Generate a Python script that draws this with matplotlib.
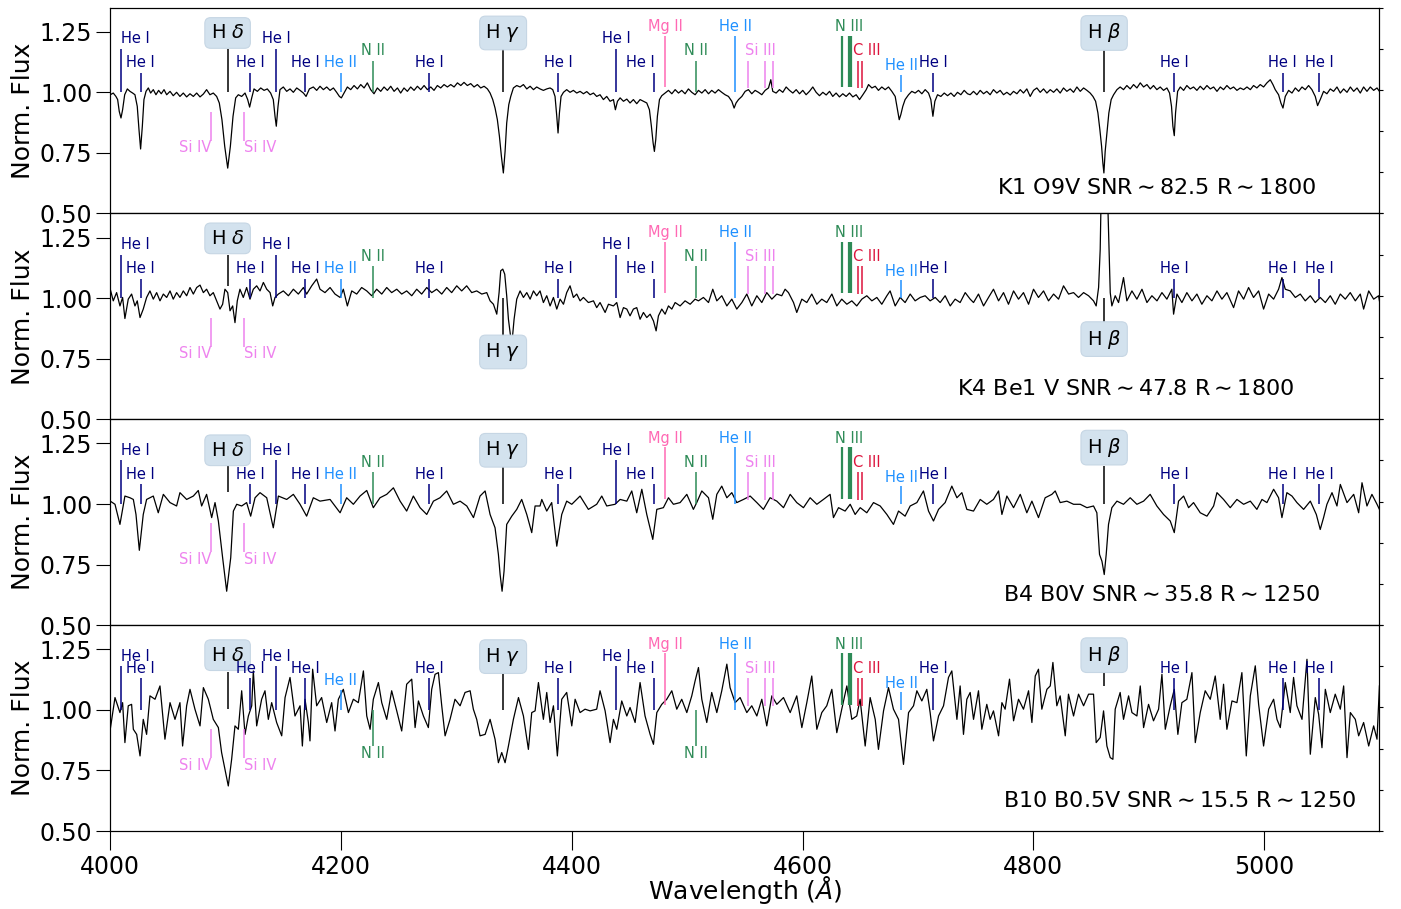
import numpy as np
import matplotlib
matplotlib.use("Agg")
import matplotlib.pyplot as plt
from matplotlib.ticker import FormatStrFormatter

# spectra: (wavelength [A], normalised flux)
k1_spec = [
    (4000.0, 0.990), (4002.6, 0.997), (4004.9, 0.983), (4006.4, 0.970), (4007.8, 0.921), (4009.3, 0.894),
    (4010.7, 0.928), (4012.5, 0.990), (4014.8, 1.014), (4017.1, 1.004), (4019.4, 0.997), (4021.4, 0.990),
    (4023.4, 0.942), (4024.9, 0.846), (4026.3, 0.766), (4027.8, 0.860), (4029.2, 0.970), (4031.0, 1.004),
    (4033.0, 1.018), (4035.0, 0.997), (4037.3, 1.011), (4039.6, 0.990), (4041.9, 1.008), (4044.2, 0.994),
    (4046.6, 1.011), (4048.9, 0.990), (4051.8, 1.004), (4054.6, 0.986), (4057.5, 1.000), (4060.4, 0.983),
    (4063.3, 0.997), (4066.2, 0.981), (4069.1, 0.994), (4072.0, 0.983), (4074.9, 0.997), (4077.8, 0.981),
    (4080.7, 0.993), (4083.5, 1.011), (4086.4, 0.990), (4089.3, 0.997), (4092.2, 0.983), (4094.5, 0.956),
    (4096.8, 0.887), (4099.2, 0.777), (4101.8, 0.687), (4104.1, 0.777), (4106.4, 0.901), (4108.7, 0.977),
    (4111.0, 0.990), (4113.9, 0.983), (4116.8, 0.997), (4119.1, 0.970), (4120.8, 0.939), (4122.6, 0.977),
    (4124.6, 1.014), (4127.5, 1.004), (4130.4, 1.018), (4133.3, 1.008), (4136.1, 1.014), (4139.0, 0.997),
    (4141.3, 0.970), (4142.8, 0.901), (4143.9, 0.860), (4145.4, 0.942), (4147.1, 1.011), (4150.0, 1.022),
    (4152.9, 1.004), (4155.8, 1.014), (4158.7, 1.000), (4161.6, 1.018), (4164.5, 1.008), (4167.4, 0.997),
    (4169.7, 0.983), (4172.6, 1.014), (4176.0, 1.022), (4178.9, 1.008), (4181.8, 1.025), (4184.7, 1.011),
    (4187.6, 1.022), (4190.5, 1.008), (4193.4, 1.018), (4196.2, 1.000), (4198.6, 0.983), (4200.3, 0.977),
    (4202.6, 0.997), (4205.5, 1.022), (4208.4, 1.011), (4211.3, 1.028), (4214.2, 1.014), (4217.1, 1.032),
    (4220.0, 1.018), (4222.8, 1.039), (4225.7, 1.011), (4228.6, 0.994), (4231.5, 1.018), (4234.4, 1.004),
    (4237.3, 1.022), (4240.2, 1.008), (4243.1, 1.025), (4246.0, 1.004), (4248.9, 1.018), (4251.7, 0.997),
    (4254.6, 1.018), (4257.5, 1.004), (4260.4, 1.022), (4263.3, 1.008), (4266.2, 1.025), (4269.1, 1.011),
    (4272.0, 1.028), (4274.9, 1.011), (4277.8, 1.022), (4280.6, 1.008), (4283.5, 1.028), (4286.4, 1.018),
    (4289.3, 1.032), (4292.2, 1.022), (4295.1, 1.032), (4298.0, 1.022), (4300.9, 1.039), (4303.8, 1.028),
    (4306.6, 1.041), (4309.5, 1.028), (4312.4, 1.036), (4315.3, 1.022), (4318.2, 1.032), (4321.1, 1.018),
    (4324.0, 1.025), (4326.9, 1.014), (4329.2, 0.997), (4331.5, 0.970), (4333.5, 0.935), (4335.5, 0.887),
    (4337.3, 0.818), (4339.0, 0.736), (4340.7, 0.667), (4342.2, 0.756), (4343.6, 0.873), (4345.4, 0.949),
    (4347.1, 0.983), (4349.4, 1.018), (4352.3, 1.028), (4355.2, 1.022), (4358.1, 1.032), (4361.0, 1.014),
    (4363.9, 1.025), (4366.8, 1.011), (4369.6, 1.022), (4372.5, 1.014), (4375.4, 1.008), (4378.3, 1.014),
    (4381.2, 1.018), (4383.5, 1.011), (4385.5, 0.983), (4387.0, 0.901), (4388.1, 0.832), (4389.3, 0.915),
    (4390.7, 0.983), (4392.8, 1.000), (4395.6, 1.011), (4398.5, 1.000), (4401.4, 1.008), (4404.3, 0.997),
    (4407.2, 1.004), (4410.1, 0.994), (4413.0, 1.003), (4415.9, 0.990), (4418.8, 0.997), (4421.6, 0.983),
    (4424.5, 0.990), (4427.4, 0.970), (4430.3, 0.983), (4433.2, 0.963), (4436.1, 0.970), (4437.8, 0.928),
    (4439.6, 0.963), (4441.9, 0.977), (4444.8, 0.963), (4447.7, 0.972), (4450.5, 0.956), (4453.4, 0.970),
    (4456.3, 0.953), (4459.2, 0.970), (4462.1, 0.963), (4465.0, 0.956), (4467.3, 0.928), (4469.0, 0.860),
    (4470.5, 0.791), (4471.6, 0.756), (4472.8, 0.805), (4474.2, 0.901), (4476.0, 0.970), (4478.0, 0.986),
    (4480.9, 0.997), (4483.8, 1.008), (4486.7, 0.994), (4489.6, 1.011), (4492.5, 0.997), (4495.3, 1.008),
    (4498.2, 0.994), (4501.1, 1.014), (4504.0, 1.000), (4506.9, 0.990), (4509.8, 1.008), (4512.7, 0.997),
    (4515.6, 1.011), (4518.5, 0.994), (4521.3, 1.008), (4524.2, 0.997), (4527.1, 1.011), (4530.0, 1.000),
    (4532.9, 0.990), (4535.8, 0.983), (4538.7, 0.963), (4540.7, 0.935), (4542.4, 0.956), (4544.5, 0.970),
    (4547.4, 0.983), (4550.3, 1.004), (4553.1, 1.011), (4556.0, 0.994), (4558.9, 1.008), (4561.8, 1.000),
    (4564.7, 0.990), (4567.6, 1.008), (4570.5, 1.018), (4572.5, 1.052), (4574.2, 1.004), (4577.1, 0.997),
    (4580.0, 1.011), (4582.9, 1.000), (4585.8, 1.022), (4588.7, 1.008), (4591.6, 0.997), (4594.5, 1.011),
    (4597.4, 0.994), (4600.2, 1.008), (4603.1, 0.990), (4606.0, 1.004), (4608.9, 1.022), (4611.8, 1.000),
    (4614.7, 0.986), (4617.6, 1.000), (4620.5, 0.989), (4623.4, 1.004), (4626.2, 0.983), (4629.1, 0.997),
    (4632.0, 0.981), (4634.9, 0.994), (4637.8, 0.983), (4640.7, 0.997), (4643.6, 0.981), (4646.5, 0.990),
    (4649.4, 0.970), (4652.3, 0.990), (4655.2, 1.011), (4657.2, 1.032), (4660.1, 1.018), (4663.0, 1.025),
    (4665.8, 1.008), (4668.7, 1.022), (4671.6, 1.011), (4674.5, 1.022), (4677.4, 1.004), (4680.3, 0.983),
    (4682.3, 0.928), (4683.8, 0.887), (4685.2, 0.908), (4686.9, 0.942), (4688.9, 0.970), (4691.9, 0.990),
    (4694.7, 1.004), (4697.6, 0.997), (4700.5, 1.008), (4703.4, 0.994), (4706.3, 1.011), (4709.2, 0.997),
    (4711.2, 0.970), (4713.0, 0.901), (4714.7, 0.963), (4717.0, 0.990), (4719.9, 0.983), (4722.8, 0.997),
    (4725.7, 0.986), (4728.6, 0.997), (4731.4, 0.983), (4734.3, 1.000), (4737.2, 0.990), (4740.1, 1.008),
    (4743.0, 0.994), (4745.3, 0.990), (4748.2, 1.004), (4751.1, 0.990), (4754.0, 1.008), (4756.9, 0.994),
    (4759.7, 1.004), (4762.6, 0.990), (4765.5, 1.011), (4768.4, 0.997), (4771.3, 1.008), (4774.2, 0.990),
    (4777.1, 1.000), (4780.0, 0.989), (4782.9, 1.004), (4785.8, 0.994), (4788.7, 1.011), (4791.5, 0.997),
    (4794.4, 1.014), (4797.3, 0.983), (4800.2, 1.008), (4803.1, 1.018), (4806.0, 1.000), (4808.9, 1.014),
    (4811.8, 0.997), (4814.7, 1.011), (4817.6, 1.000), (4820.4, 1.014), (4823.3, 0.997), (4826.2, 1.018),
    (4829.1, 1.004), (4832.0, 1.014), (4834.9, 1.000), (4837.8, 1.022), (4840.7, 1.004), (4843.6, 1.018),
    (4846.5, 1.008), (4849.3, 0.997), (4851.7, 0.983), (4854.0, 0.963), (4856.0, 0.915), (4857.7, 0.846),
    (4859.2, 0.777), (4860.3, 0.708), (4861.2, 0.667), (4862.3, 0.756), (4863.8, 0.832), (4865.5, 0.915),
    (4867.5, 0.970), (4869.6, 0.990), (4872.5, 1.011), (4875.3, 1.022), (4878.2, 1.011), (4881.1, 1.028),
    (4884.0, 1.014), (4886.9, 1.032), (4889.8, 1.018), (4892.7, 1.039), (4895.6, 1.022), (4898.5, 1.032),
    (4901.4, 1.014), (4904.2, 1.028), (4907.1, 1.011), (4910.0, 1.022), (4912.9, 1.008), (4915.8, 1.018),
    (4918.1, 0.997), (4919.8, 0.942), (4921.0, 0.860), (4922.2, 0.821), (4923.3, 0.915), (4925.1, 1.004),
    (4927.4, 1.022), (4930.3, 1.008), (4933.1, 1.028), (4936.0, 1.014), (4938.9, 1.022), (4941.8, 1.008),
    (4944.7, 1.025), (4947.6, 1.011), (4950.5, 1.028), (4953.4, 1.014), (4956.3, 1.022), (4959.2, 1.004),
    (4962.1, 1.022), (4964.9, 1.011), (4967.8, 1.028), (4970.7, 1.014), (4973.6, 1.022), (4976.5, 1.008),
    (4979.4, 1.018), (4982.3, 1.011), (4985.2, 1.022), (4988.1, 1.011), (4990.9, 1.028), (4993.8, 1.018),
    (4996.7, 1.032), (4999.6, 1.022), (5002.5, 1.039), (5005.4, 1.052), (5007.7, 1.032), (5009.7, 1.011),
    (5012.6, 0.990), (5014.6, 0.956), (5016.4, 0.935), (5018.4, 0.983), (5021.3, 1.008), (5024.2, 0.997),
    (5027.1, 1.018), (5030.0, 1.004), (5032.9, 1.022), (5035.7, 1.011), (5038.6, 1.028), (5041.5, 1.011),
    (5044.4, 0.983), (5046.4, 0.945), (5048.7, 0.970), (5051.6, 1.004), (5054.5, 0.994), (5057.4, 1.014),
    (5060.3, 1.004), (5063.2, 1.022), (5066.1, 0.997), (5069.0, 1.014), (5071.9, 1.000), (5074.8, 1.022),
    (5077.7, 1.004), (5080.6, 1.018), (5083.4, 0.997), (5086.3, 1.022), (5089.2, 1.004), (5092.1, 1.022),
    (5095.0, 1.008), (5097.9, 1.018), (5100.0, 1.004),
]

k4_spec = [
    (4000.0, 1.037), (4002.6, 0.989), (4005.5, 1.023), (4008.4, 0.968), (4010.7, 1.003), (4012.7, 0.916),
    (4015.6, 0.996), (4018.5, 1.017), (4021.4, 0.968), (4023.4, 0.989), (4025.8, 0.920), (4028.6, 0.955),
    (4031.5, 1.003), (4034.4, 1.030), (4037.3, 0.996), (4040.2, 1.023), (4043.1, 0.989), (4046.0, 1.017),
    (4048.9, 1.003), (4051.8, 1.030), (4054.6, 0.996), (4057.5, 1.023), (4060.4, 1.003), (4063.3, 1.030),
    (4066.2, 1.010), (4069.1, 1.044), (4072.0, 1.017), (4074.9, 1.044), (4077.8, 1.054), (4080.7, 1.023),
    (4083.5, 1.037), (4086.4, 1.010), (4089.3, 1.023), (4092.2, 0.989), (4095.1, 0.955), (4097.4, 0.975),
    (4099.4, 1.037), (4101.8, 1.023), (4103.8, 0.948), (4106.1, 0.968), (4108.1, 0.899), (4110.1, 0.989),
    (4112.4, 1.037), (4115.3, 1.003), (4118.2, 1.044), (4121.1, 0.996), (4124.0, 1.037), (4126.9, 1.051),
    (4129.8, 1.030), (4132.7, 1.065), (4135.6, 1.037), (4138.5, 1.023), (4140.8, 0.968), (4142.8, 1.003),
    (4145.7, 1.017), (4150.0, 1.030), (4154.4, 1.010), (4158.7, 1.037), (4163.0, 1.017), (4167.4, 1.044),
    (4170.2, 1.017), (4174.6, 1.051), (4178.9, 1.079), (4181.8, 1.037), (4186.1, 1.023), (4190.5, 1.044),
    (4194.8, 1.017), (4199.2, 1.003), (4202.0, 1.037), (4205.5, 0.968), (4209.3, 1.030), (4213.6, 1.017),
    (4217.9, 1.044), (4222.3, 1.030), (4226.6, 1.010), (4230.9, 1.037), (4235.3, 1.017), (4239.6, 1.044),
    (4243.9, 1.023), (4248.3, 1.037), (4252.6, 1.017), (4256.9, 1.030), (4261.3, 1.010), (4265.6, 1.037),
    (4269.9, 1.017), (4274.3, 1.044), (4278.6, 1.023), (4282.9, 1.037), (4287.3, 1.017), (4291.6, 1.044),
    (4295.9, 1.023), (4300.3, 1.051), (4304.6, 1.030), (4308.9, 1.051), (4313.3, 1.023), (4317.6, 1.030),
    (4322.0, 1.017), (4326.3, 1.023), (4329.2, 0.989), (4332.1, 0.975), (4335.0, 0.934), (4337.0, 1.023),
    (4338.4, 1.113), (4340.2, 1.120), (4341.9, 1.099), (4343.6, 1.010), (4345.1, 0.913), (4347.1, 0.837),
    (4348.3, 0.824), (4350.0, 0.913), (4352.3, 0.996), (4355.2, 1.030), (4358.1, 1.003), (4361.0, 1.023),
    (4363.9, 0.996), (4366.8, 1.030), (4369.6, 1.010), (4372.5, 1.030), (4375.4, 0.982), (4378.3, 1.010),
    (4381.2, 0.968), (4384.1, 1.003), (4387.0, 0.955), (4389.9, 0.996), (4392.8, 0.975), (4395.6, 1.023),
    (4398.5, 1.051), (4401.4, 1.003), (4404.3, 1.017), (4407.2, 0.989), (4410.1, 1.003), (4414.4, 0.982),
    (4418.8, 0.989), (4421.6, 0.961), (4424.5, 0.982), (4428.9, 0.941), (4431.8, 0.975), (4436.1, 0.968),
    (4439.0, 0.982), (4441.9, 0.920), (4444.8, 0.961), (4447.7, 0.955), (4450.5, 0.927), (4453.4, 0.955),
    (4456.3, 0.961), (4459.2, 0.913), (4462.1, 0.941), (4465.0, 0.920), (4467.9, 0.934), (4470.8, 0.906),
    (4473.1, 0.865), (4475.1, 0.927), (4478.0, 0.955), (4480.9, 0.934), (4483.8, 0.968), (4486.7, 0.955),
    (4489.6, 0.982), (4493.9, 0.968), (4498.2, 0.989), (4502.6, 0.975), (4506.9, 0.996), (4509.8, 0.989),
    (4514.1, 1.003), (4518.5, 0.982), (4522.2, 1.037), (4525.7, 0.989), (4530.0, 1.010), (4534.4, 0.968),
    (4538.7, 0.996), (4543.0, 0.955), (4547.4, 0.982), (4551.7, 1.017), (4556.0, 0.968), (4560.4, 1.010),
    (4564.7, 0.982), (4569.0, 1.023), (4573.4, 0.996), (4577.7, 1.017), (4582.0, 1.010), (4584.9, 1.037),
    (4587.8, 1.023), (4592.2, 0.982), (4595.0, 0.941), (4599.4, 0.996), (4603.7, 0.982), (4608.0, 1.017),
    (4612.4, 0.975), (4616.7, 0.996), (4621.0, 0.982), (4625.4, 1.017), (4629.7, 0.968), (4634.0, 0.996),
    (4638.4, 0.975), (4642.7, 0.989), (4647.0, 0.968), (4651.4, 0.996), (4655.7, 1.010), (4660.1, 0.989),
    (4664.4, 1.003), (4668.7, 0.975), (4673.1, 1.010), (4675.9, 1.030), (4680.3, 0.968), (4684.6, 1.003),
    (4688.9, 0.982), (4693.3, 1.017), (4697.6, 0.989), (4702.0, 1.003), (4706.3, 1.010), (4710.6, 0.989),
    (4715.0, 1.003), (4719.3, 0.982), (4723.6, 1.010), (4728.0, 0.968), (4732.3, 0.996), (4736.6, 0.982),
    (4741.0, 1.023), (4745.3, 0.996), (4748.2, 0.982), (4752.5, 1.017), (4756.9, 0.968), (4761.2, 1.003),
    (4765.5, 1.037), (4769.9, 0.989), (4774.2, 1.023), (4778.5, 0.975), (4782.9, 1.030), (4787.2, 0.996),
    (4791.5, 1.023), (4795.9, 0.975), (4800.2, 1.037), (4804.5, 1.003), (4808.9, 1.030), (4813.2, 0.989),
    (4817.6, 1.017), (4821.9, 0.996), (4826.2, 1.051), (4830.6, 1.017), (4834.9, 1.023), (4839.2, 1.003),
    (4843.6, 1.023), (4847.9, 1.010), (4852.2, 0.989), (4854.5, 0.968), (4856.6, 1.044), (4858.0, 1.202),
    (4858.9, 1.450), (4860.3, 1.600), (4862.6, 1.600), (4864.4, 1.420), (4865.5, 1.230), (4866.7, 1.023),
    (4868.1, 0.968), (4871.0, 1.010), (4873.9, 0.982), (4878.2, 1.085), (4881.1, 0.989), (4885.5, 1.030),
    (4889.8, 0.996), (4894.2, 1.037), (4898.5, 0.982), (4902.8, 1.010), (4907.2, 0.989), (4911.5, 1.023),
    (4915.8, 0.996), (4920.1, 1.037), (4921.6, 0.934), (4924.5, 1.017), (4928.8, 0.982), (4933.1, 1.023),
    (4937.5, 0.989), (4941.8, 1.017), (4946.1, 0.975), (4950.5, 1.010), (4954.8, 0.989), (4959.2, 1.030),
    (4963.5, 0.996), (4967.8, 1.023), (4973.6, 0.961), (4977.9, 1.030), (4982.3, 0.996), (4986.6, 1.044),
    (4990.9, 1.003), (4995.3, 1.030), (4999.6, 0.955), (5004.0, 1.017), (5008.3, 0.996), (5012.6, 1.037),
    (5015.5, 1.085), (5018.4, 1.037), (5022.7, 1.030), (5027.1, 1.003), (5031.4, 1.017), (5035.7, 0.989),
    (5040.1, 1.010), (5044.4, 0.982), (5048.7, 1.003), (5053.1, 0.982), (5057.4, 1.010), (5061.7, 0.975),
    (5066.1, 1.017), (5070.4, 0.996), (5074.7, 1.023), (5079.1, 0.989), (5083.4, 1.017), (5086.3, 0.955),
    (5090.7, 1.030), (5095.0, 0.996), (5099.3, 1.010), (5100.0, 0.989),
]

b4_spec = [
    (4000.0, 1.012), (4004.1, 0.999), (4008.4, 0.916), (4012.7, 1.033), (4017.1, 1.026), (4020.0, 1.019),
    (4022.3, 0.957), (4025.2, 0.809), (4028.6, 0.957), (4031.5, 1.019), (4037.3, 1.033), (4041.6, 0.964),
    (4046.0, 1.040), (4051.8, 1.006), (4057.5, 0.992), (4060.4, 1.047), (4066.2, 1.019), (4072.0, 1.033),
    (4076.3, 1.056), (4079.2, 0.992), (4083.5, 1.040), (4087.9, 0.944), (4090.8, 1.006), (4093.7, 0.930),
    (4097.4, 0.778), (4100.9, 0.640), (4104.4, 0.778), (4106.7, 0.971), (4109.6, 0.999), (4113.9, 0.992),
    (4118.2, 1.006), (4121.7, 0.950), (4125.5, 1.026), (4129.8, 1.047), (4135.6, 1.026), (4141.3, 0.902),
    (4145.7, 1.033), (4152.9, 1.019), (4158.7, 1.040), (4164.5, 0.999), (4170.2, 0.950), (4176.0, 1.026),
    (4181.8, 1.012), (4190.5, 1.019), (4199.2, 0.964), (4204.9, 1.026), (4210.7, 0.999), (4216.5, 1.033),
    (4222.3, 1.056), (4228.0, 0.985), (4233.8, 1.026), (4239.6, 1.040), (4245.4, 1.067), (4251.2, 1.012),
    (4256.9, 0.971), (4262.7, 1.033), (4268.5, 0.985), (4274.3, 0.957), (4280.1, 1.012), (4285.8, 1.026),
    (4291.6, 1.054), (4297.4, 0.999), (4303.2, 1.012), (4309.0, 0.992), (4314.8, 0.944), (4320.5, 1.033),
    (4324.9, 1.054), (4329.2, 0.957), (4333.5, 0.902), (4336.4, 0.792), (4337.9, 0.709), (4339.6, 0.640),
    (4341.3, 0.723), (4343.6, 0.916), (4348.0, 0.950), (4352.3, 0.978), (4356.6, 1.019), (4361.0, 0.957),
    (4365.3, 0.882), (4368.2, 0.992), (4372.5, 0.992), (4374.0, 1.019), (4378.3, 0.971), (4382.6, 1.006),
    (4387.0, 0.826), (4391.3, 0.957), (4395.6, 1.012), (4400.0, 0.999), (4407.2, 1.033), (4414.4, 0.978),
    (4421.6, 0.999), (4426.0, 1.033), (4430.3, 0.992), (4437.5, 0.999), (4441.9, 1.019), (4447.7, 1.012),
    (4452.0, 1.054), (4456.3, 0.964), (4460.7, 1.061), (4465.0, 0.957), (4470.2, 0.854), (4473.7, 0.978),
    (4479.4, 0.985), (4483.8, 1.026), (4488.1, 0.999), (4493.9, 1.006), (4499.7, 1.040), (4505.4, 0.978),
    (4508.3, 1.006), (4512.7, 1.054), (4518.5, 1.026), (4522.2, 0.937), (4525.7, 1.040), (4530.0, 1.074),
    (4534.4, 1.026), (4538.7, 1.047), (4543.0, 1.006), (4548.8, 1.019), (4554.6, 1.033), (4560.4, 1.006),
    (4566.1, 0.978), (4571.9, 1.026), (4577.7, 1.012), (4583.5, 0.985), (4589.3, 1.040), (4595.0, 1.006),
    (4600.8, 0.985), (4606.6, 1.026), (4612.4, 0.999), (4618.1, 1.019), (4623.9, 1.040), (4626.8, 0.944),
    (4631.2, 0.985), (4636.9, 0.971), (4641.3, 0.999), (4645.6, 0.957), (4650.0, 0.985), (4655.7, 0.964),
    (4661.5, 1.006), (4667.3, 0.992), (4673.1, 0.957), (4678.8, 0.916), (4683.2, 0.971), (4688.9, 0.950),
    (4693.3, 0.992), (4699.1, 1.006), (4704.8, 1.054), (4709.2, 0.971), (4713.5, 0.930), (4717.9, 0.978),
    (4723.6, 1.006), (4729.4, 1.074), (4733.8, 1.026), (4738.1, 1.047), (4742.4, 0.978), (4748.2, 0.971),
    (4754.0, 1.019), (4759.7, 0.999), (4765.5, 1.019), (4769.9, 1.054), (4772.8, 0.957), (4777.1, 1.033),
    (4782.9, 0.985), (4788.7, 1.040), (4794.4, 0.964), (4798.8, 1.012), (4804.5, 0.944), (4810.3, 1.026),
    (4816.1, 1.040), (4819.0, 1.054), (4823.3, 1.006), (4829.1, 1.012), (4834.9, 0.999), (4840.7, 0.999),
    (4846.5, 0.985), (4852.2, 0.992), (4855.1, 0.964), (4857.4, 0.792), (4859.5, 0.764), (4861.5, 0.709),
    (4863.2, 0.792), (4865.2, 0.916), (4868.1, 0.985), (4872.5, 1.012), (4878.2, 0.999), (4884.0, 1.026),
    (4889.8, 0.999), (4895.6, 1.012), (4901.3, 1.040), (4907.1, 0.992), (4912.9, 0.957), (4918.7, 0.930),
    (4922.2, 0.882), (4925.9, 1.012), (4930.3, 1.033), (4934.6, 0.985), (4938.9, 1.006), (4944.7, 0.964),
    (4950.5, 0.950), (4956.3, 0.992), (4959.2, 1.047), (4964.9, 1.019), (4970.7, 0.985), (4976.5, 1.019),
    (4982.3, 0.999), (4988.1, 1.012), (4993.8, 0.978), (4998.2, 1.019), (5002.5, 1.006), (5008.3, 1.061),
    (5012.6, 1.026), (5015.5, 0.944), (5019.8, 1.047), (5024.2, 1.033), (5028.5, 1.006), (5034.3, 0.978),
    (5040.1, 1.012), (5045.3, 0.957), (5048.7, 0.895), (5051.6, 0.944), (5054.5, 0.999), (5058.9, 1.047),
    (5063.2, 0.992), (5066.1, 1.081), (5071.9, 1.006), (5077.7, 1.040), (5082.0, 0.964), (5084.9, 1.088),
    (5089.2, 0.992), (5093.5, 1.040), (5097.9, 0.999), (5100.0, 0.978),
]

b10_spec = [
    (4000.0, 0.920), (4004.1, 1.051), (4008.4, 0.989), (4010.7, 1.030), (4012.7, 0.865), (4015.6, 1.017),
    (4018.5, 1.023), (4020.0, 0.920), (4022.9, 0.899), (4025.8, 0.810), (4028.6, 0.961), (4031.5, 0.899),
    (4034.4, 1.058), (4038.8, 1.044), (4043.1, 1.099), (4047.4, 0.879), (4051.8, 1.030), (4056.1, 0.961),
    (4060.4, 1.030), (4062.7, 0.851), (4066.2, 1.017), (4069.1, 1.085), (4073.4, 1.003), (4077.8, 0.934),
    (4080.7, 1.092), (4085.0, 1.044), (4089.3, 0.961), (4093.7, 0.927), (4096.5, 0.824), (4099.4, 0.755),
    (4102.3, 0.686), (4105.2, 0.796), (4108.1, 0.934), (4111.0, 0.920), (4113.9, 1.079), (4116.8, 0.899),
    (4119.7, 0.975), (4122.6, 1.017), (4124.0, 1.161), (4126.9, 0.934), (4131.2, 1.044), (4134.1, 1.079),
    (4137.0, 0.961), (4139.9, 1.030), (4144.2, 0.948), (4148.6, 0.893), (4151.5, 1.051), (4155.8, 1.134),
    (4160.1, 0.975), (4164.5, 1.017), (4166.5, 0.851), (4168.8, 1.044), (4171.7, 0.948), (4173.1, 0.872),
    (4175.4, 1.168), (4178.9, 1.017), (4183.2, 1.051), (4187.6, 0.948), (4191.9, 1.030), (4194.8, 0.913),
    (4197.7, 1.044), (4202.0, 1.085), (4206.4, 0.989), (4210.7, 1.044), (4215.0, 1.030), (4219.4, 1.161),
    (4222.3, 0.975), (4225.2, 0.920), (4228.0, 1.044), (4232.4, 1.113), (4235.3, 1.030), (4239.6, 0.961),
    (4243.9, 1.079), (4248.3, 0.996), (4252.6, 0.913), (4256.9, 1.106), (4261.3, 1.127), (4264.2, 0.927),
    (4267.1, 1.037), (4271.4, 0.975), (4275.7, 0.927), (4278.6, 1.085), (4281.5, 1.147), (4284.4, 1.154),
    (4287.3, 1.017), (4290.2, 0.893), (4294.5, 0.961), (4298.8, 1.044), (4303.2, 1.017), (4307.5, 1.072),
    (4311.9, 1.079), (4314.7, 1.003), (4317.6, 0.961), (4320.5, 0.893), (4324.9, 0.899), (4329.2, 0.961),
    (4333.5, 0.879), (4336.4, 0.782), (4339.3, 0.824), (4342.2, 0.782), (4345.1, 0.851), (4349.4, 0.961),
    (4353.8, 1.051), (4358.1, 0.975), (4362.4, 0.837), (4365.3, 0.989), (4368.2, 0.996), (4371.1, 1.113),
    (4375.4, 0.961), (4378.3, 1.072), (4381.2, 0.948), (4384.1, 1.017), (4387.5, 0.810), (4391.3, 1.044),
    (4395.6, 1.072), (4400.0, 0.934), (4402.9, 1.044), (4407.2, 0.989), (4411.5, 1.003), (4415.9, 0.996),
    (4421.6, 1.003), (4424.5, 1.079), (4428.9, 0.996), (4433.2, 0.865), (4436.1, 0.961), (4439.0, 0.920),
    (4443.3, 1.037), (4447.7, 0.975), (4450.5, 1.010), (4454.9, 0.948), (4459.2, 1.113), (4463.5, 0.975),
    (4467.9, 0.899), (4470.8, 0.858), (4473.7, 0.989), (4478.0, 1.023), (4482.3, 1.044), (4486.7, 1.079),
    (4491.0, 1.003), (4495.3, 1.044), (4499.7, 0.989), (4504.0, 1.058), (4506.9, 1.120), (4509.8, 1.175),
    (4512.7, 1.044), (4517.0, 0.948), (4521.3, 1.072), (4525.7, 0.989), (4530.0, 1.079), (4534.4, 1.189),
    (4537.2, 1.092), (4541.6, 1.030), (4545.9, 1.051), (4551.7, 0.989), (4556.0, 1.017), (4560.4, 0.975),
    (4564.7, 1.044), (4569.0, 0.934), (4573.4, 1.058), (4577.7, 1.023), (4583.5, 1.051), (4589.3, 0.989),
    (4595.0, 1.058), (4599.4, 0.927), (4603.7, 1.030), (4608.0, 1.140), (4612.4, 0.920), (4616.7, 0.989),
    (4621.0, 1.017), (4625.4, 1.085), (4629.7, 0.906), (4634.0, 1.003), (4638.4, 1.099), (4642.7, 0.961),
    (4647.0, 0.975), (4649.9, 1.044), (4654.3, 0.851), (4658.6, 1.051), (4663.0, 0.961), (4665.8, 0.837),
    (4670.2, 0.996), (4674.5, 1.092), (4678.8, 1.003), (4683.2, 0.961), (4687.5, 0.775), (4691.9, 0.989),
    (4696.2, 1.017), (4699.1, 1.079), (4703.4, 1.037), (4707.7, 1.085), (4710.6, 0.989), (4713.5, 0.872),
    (4717.9, 0.975), (4722.2, 1.017), (4726.5, 1.134), (4729.4, 1.161), (4733.8, 0.961), (4736.6, 1.099),
    (4739.5, 0.899), (4742.4, 1.044), (4745.3, 1.072), (4748.2, 0.961), (4752.5, 1.079), (4755.4, 0.920),
    (4759.7, 1.023), (4762.6, 0.961), (4765.5, 0.996), (4769.9, 0.893), (4772.8, 1.030), (4775.6, 1.003),
    (4779.4, 1.127), (4782.9, 0.955), (4787.2, 1.044), (4791.5, 1.003), (4795.9, 1.079), (4798.8, 0.948),
    (4801.7, 1.140), (4804.5, 1.168), (4807.4, 1.003), (4811.8, 1.085), (4814.7, 1.099), (4817.0, 1.196),
    (4820.4, 1.017), (4823.3, 1.058), (4827.7, 0.893), (4830.5, 1.065), (4834.9, 0.975), (4839.2, 1.065),
    (4843.6, 1.017), (4847.9, 1.065), (4852.2, 1.065), (4854.5, 0.865), (4858.0, 0.886), (4860.9, 0.996),
    (4863.8, 0.851), (4866.7, 0.803), (4869.0, 0.796), (4871.0, 1.003), (4875.3, 1.072), (4878.2, 0.961),
    (4882.6, 1.058), (4885.5, 0.989), (4889.8, 0.975), (4892.7, 1.099), (4895.6, 0.927), (4899.9, 1.023),
    (4904.2, 0.955), (4908.6, 1.003), (4911.5, 1.147), (4914.4, 0.920), (4918.7, 1.017), (4922.2, 1.085),
    (4925.3, 0.899), (4928.8, 1.030), (4933.1, 1.044), (4937.5, 1.154), (4940.4, 0.865), (4944.7, 0.989),
    (4949.0, 1.079), (4953.4, 1.044), (4957.7, 1.140), (4962.0, 0.961), (4964.9, 1.106), (4967.8, 0.920),
    (4972.2, 1.037), (4976.5, 1.030), (4980.8, 1.154), (4984.6, 0.810), (4988.1, 1.058), (4992.4, 1.182),
    (4995.3, 1.023), (4999.6, 0.851), (5004.0, 1.003), (5008.3, 1.044), (5011.2, 0.961), (5014.1, 0.927),
    (5018.4, 1.113), (5022.7, 0.989), (5025.6, 1.134), (5028.5, 1.017), (5032.9, 0.961), (5037.2, 1.209),
    (5040.1, 0.817), (5044.4, 1.051), (5047.3, 0.982), (5050.2, 0.844), (5053.1, 1.085), (5057.4, 0.989),
    (5061.7, 1.065), (5066.1, 1.003), (5069.0, 1.099), (5071.9, 0.803), (5074.8, 0.989), (5079.1, 0.961),
    (5082.0, 0.893), (5086.3, 0.948), (5090.7, 0.851), (5095.0, 0.934), (5097.9, 0.879), (5100.0, 1.099),
]

spectra = [k1_spec, k4_spec, b4_spec, b10_spec]
star_labels = [
    r"K1 O9V SNR$\sim$82.5 R$\sim$1800",
    r"K4 Be1 V SNR$\sim$47.8 R$\sim$1800",
    r"B4 B0V SNR$\sim$35.8 R$\sim$1250",
    r"B10 B0.5V SNR$\sim$15.5 R$\sim$1250",
]
star_label_pos = [(4906.6, 0.606), (4879.7, 0.624), (4910.8, 0.623), (4926.4, 0.623)]

# identified lines: label, rest wavelengths, colour, text wavelength, alignment, level
line_ids = [
    ("He I", [4009.3], "navy", 4009.3, "left", "hi"),
    ("He I", [4026.3], "navy", 4026.3, "center", "lo"),
    ("Si IV", [4087.3], "violet", 4087.3, "right", "below"),
    ("Si IV", [4116.2], "violet", 4116.2, "left", "below"),
    ("He I", [4121.4], "navy", 4121.4, "center", "lo"),
    ("He I", [4143.8], "navy", 4143.8, "center", "hi"),
    ("He I", [4169.0], "navy", 4169.0, "center", "lo"),
    ("He II", [4199.8], "dodgerblue", 4199.8, "center", "heii"),
    ("N II", [4227.7], "seagreen", 4227.7, "center", "nii"),
    ("He I", [4276.3], "navy", 4276.3, "center", "lo"),
    ("He I", [4388.0], "navy", 4388.0, "center", "lo"),
    ("He I", [4438.4], "navy", 4438.4, "center", "hi"),
    ("He I", [4471.6], "navy", 4471.6, "right", "lo"),
    ("Mg II", [4481.2], "hotpink", 4481.2, "center", "top2"),
    ("N II", [4507.5], "seagreen", 4507.5, "center", "nii"),
    ("He II", [4541.6], "dodgerblue", 4541.6, "center", "top"),
    ("Si III", [4552.6, 4567.8, 4574.8], "violet", 4563.8, "center", "mid"),
    ("N III", [4634.0, 4640.6, 4641.9], "seagreen", 4640.7, "center", "top2"),
    ("C III", [4647.9, 4651.9], "crimson", 4655.4, "center", "mid"),
    ("He II", [4685.7], "dodgerblue", 4685.7, "center", "heii2"),
    ("He I", [4713.1], "navy", 4713.1, "center", "lo"),
    ("He I", [4922.1], "navy", 4922.1, "center", "lo"),
    ("He I", [5016.0], "navy", 5016.0, "center", "lo"),
    ("He I", [5048.0], "navy", 5048.0, "center", "lo"),
]

# text y, line bottom, line top
levels = {
    "hi": (1.222, 1.0, 1.18), "lo": (1.123, 1.0, 1.081), "heii": (1.123, 1.0, 1.081),
    "heii2": (1.11, 1.0, 1.073), "nii": (1.172, 1.0, 1.131), "mid": (1.172, 1.018, 1.131),
    "top": (1.271, 1.0, 1.234), "top2": (1.271, 1.022, 1.234), "below": (0.771, 0.80, 0.92),
}
levels_b10 = dict(levels, lo=(1.172, 1.0, 1.13), nii=(0.821, 0.851, 1.0))

balmer = [(r"H $\delta$", 4101.7), (r"H $\gamma$", 4340.5), (r"H $\beta$", 4861.4)]
# per panel: (text y, line from, line to) for delta, gamma, beta
balmer_pos = [
    [(1.245, 1.0, 1.179), (1.245, 1.0, 1.179), (1.245, 1.0, 1.179)],
    [(1.247, 1.051, 1.179), (0.778, 0.835, 1.0), (0.831, 0.888, 1.0)],
    [(1.222, 1.051, 1.157), (1.222, 1.0, 1.157), (1.233, 1.0, 1.157)],
    [(1.226, 1.003, 1.157), (1.220, 1.0, 1.157), (1.226, 1.10, 1.154)],
]

fig, axes = plt.subplots(4, 1, figsize=(14.01, 9.09), dpi=100, sharex=True)
plt.subplots_adjust(left=0.0787, right=0.9846, top=0.9917, bottom=0.0858, hspace=0)

for i, ax in enumerate(axes):
    w, f = zip(*spectra[i])
    ax.plot(w, f, color="black", lw=0.9)

    # Balmer boxes first so the metal-line labels sit on top of them
    for (lab, wl), (ty, y0, y1) in zip(balmer, balmer_pos[i]):
        ax.vlines(wl, y0, y1, color="black", lw=1.1)
        ax.text(wl, ty, lab, fontsize=14, ha="center", va="center",
                bbox=dict(boxstyle="round,pad=0.3", fc="#d3e2ee", ec="#c6d6e4", lw=0.8))

    lv = levels_b10 if i == 3 else levels
    for name, waves, col, tw, ha, lev in line_ids:
        ty, y0, y1 = lv[lev]
        lw = 1.6 if name == "N III" else 1.1
        ax.vlines(waves, y0, y1, color=col, lw=lw)
        ax.text(tw, ty, name, color=col, fontsize=10.5, ha=ha, va="center")

    ax.text(star_label_pos[i][0], star_label_pos[i][1], star_labels[i], fontsize=16,
            ha="center", va="center")

    ax.set_xlim(4000, 5100)
    ax.set_ylim(0.5, 1.35)
    ax.set_yticks([0.5, 0.75, 1.0, 1.25])
    ax.yaxis.set_major_formatter(FormatStrFormatter("%.2f"))
    ax.tick_params(axis="y", direction="out", length=10, labelsize=17, pad=3)
    ax.set_ylabel("Norm. Flux", fontsize=18, labelpad=3)

    tw_ax = ax.twinx()
    tw_ax.set_ylim(0, 1)
    tw_ax.set_yticks(np.linspace(0, 1, 6))
    tw_ax.set_yticklabels([])
    tw_ax.tick_params(axis="y", length=3)

    if i < 3:
        ax.tick_params(axis="x", bottom=False, labelbottom=False)

axes[-1].set_xticks([4000, 4200, 4400, 4600, 4800, 5000])
axes[-1].tick_params(axis="x", direction="out", length=14, labelsize=17, pad=3)
axes[-1].set_xlabel(r"Wavelength ($\AA$)", fontsize=18, labelpad=-3)

plt.savefig("out.png", dpi=100)
